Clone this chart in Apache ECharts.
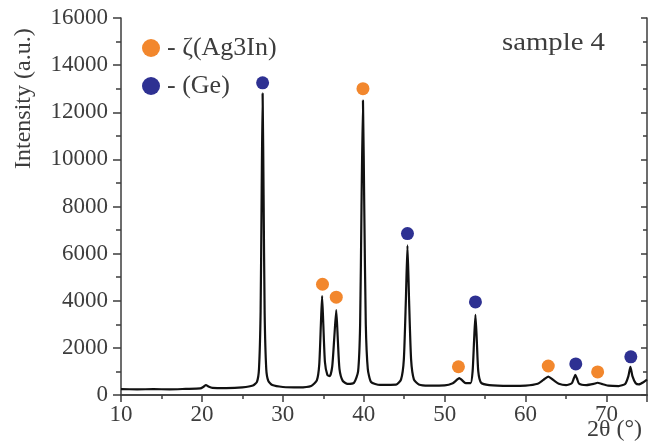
<!DOCTYPE html>
<html><head><meta charset="utf-8">
<script src="https://cdn.jsdelivr.net/npm/echarts@6/dist/echarts.min.js"></script>
<style>html,body{margin:0;padding:0;background:#fff}#c{width:652px;height:444px}</style>
</head><body><div id="c"></div>
<script>
// Diffraction profile: [2θ, intensity]
var profile = [[10,250],[12,240],[14,250],[16,240],[18,260],[19.8,280],[20.2,350],[20.5,420],[20.8,360],[21.3,300],[23,290],[25,320],[26.3,400],[26.8,560],[27.05,1100],[27.25,3500],[27.38,8500],[27.5,12800],[27.62,8500],[27.75,3500],[27.95,1100],[28.2,600],[28.7,420],[30,340],[32,320],[33.5,380],[34.2,620],[34.5,1300],[34.7,3000],[34.85,4200],[35.0,3000],[35.2,1400],[35.5,850],[35.8,800],[36.1,1200],[36.35,2400],[36.6,3600],[36.8,2300],[37.0,1100],[37.4,600],[38,470],[38.8,520],[39.3,1000],[39.55,3000],[39.72,8000],[39.9,12500],[40.06,8000],[40.25,3000],[40.5,1100],[40.9,550],[42,430],[44,440],[44.6,650],[44.95,1500],[45.2,4000],[45.4,6350],[45.6,4000],[45.85,1500],[46.2,650],[46.8,450],[48,400],[50,410],[51.0,500],[51.5,640],[51.8,720],[52.1,640],[52.6,500],[53.2,500],[53.45,1000],[53.63,2300],[53.8,3400],[53.97,2300],[54.15,1000],[54.5,520],[55.5,420],[58,390],[60,400],[61.5,480],[62.2,640],[62.8,780],[63.4,640],[64.1,480],[65,420],[65.7,500],[65.95,700],[66.15,850],[66.35,700],[66.6,480],[67.5,420],[68.4,470],[68.9,520],[69.4,470],[70.2,400],[71.5,380],[72.3,470],[72.7,800],[72.95,1200],[73.2,800],[73.6,500],[74,450],[74.6,550],[75,650]];
// Phase markers
var ag3inMarks = [[34.9,4700],[36.6,4150],[39.9,13000],[51.7,1200],[62.8,1230],[68.9,980]];
var geMarks = [[27.5,13250],[45.4,6850],[53.8,3950],[66.2,1320],[73.0,1620]];
var seriesNames = ['- ζ(Ag3In)', '- (Ge)'];
var xMin = 10, xMax = 75, xStep = 10;
var yMin = 0, yMax = 16000, yStep = 2000;

var axisColor = '#3d3d3d';
var font = 'Liberation Serif';
var chart = echarts.init(document.getElementById('c'), null, {renderer:'canvas'});
var lineStyle = {color: axisColor, width: 1.5};
chart.setOption({
  animation: false,
  backgroundColor: '#fff',
  grid: {left: 121, right: 5, top: 18, bottom: 49},
  legend: {
    left: 137, top: 30, orient: 'vertical', itemGap: 12, itemWidth: 18, itemHeight: 18,
    data: [{name: seriesNames[0], icon: 'circle'}, {name: seriesNames[1], icon: 'circle'}],
    textStyle: {fontFamily: font, fontSize: 26, color: axisColor, padding: [0,0,0,2]}
  },
  graphic: [
    {type: 'text', x: 12, y: 169, rotation: Math.PI/2, style: {text: 'Intensity (a.u.)', font: '24px "Liberation Serif"', fill: axisColor}},
    {type: 'text', x: 587, y: 418, style: {text: '2θ (°)', font: '24px "Liberation Serif"', fill: axisColor}},
    {type: 'text', x: 502, y: 31, scaleX: 1.15, style: {text: 'sample 4', font: '25px "Liberation Serif"', fill: axisColor}}
  ],
  xAxis: [
    {type: 'value', min: xMin, max: xMax, interval: xStep, position: 'bottom',
     axisLine: {lineStyle: lineStyle}, axisTick: {length: 7, lineStyle: lineStyle},
     minorTick: {show: true, splitNumber: 2, length: 4, lineStyle: lineStyle},
     splitLine: {show: false},
     axisLabel: {fontFamily: font, fontSize: 23, color: axisColor, margin: 8,
       formatter: function(v){ return v >= 75 ? '' : String(v); }}},
    {type: 'value', min: xMin, max: xMax, interval: xStep, position: 'top',
     axisLine: {lineStyle: lineStyle}, axisTick: {inside: true, length: 6, lineStyle: lineStyle},
     minorTick: {show: true, splitNumber: 2, length: 4, lineStyle: lineStyle},
     splitLine: {show: false}, axisLabel: {show: false}}
  ],
  yAxis: [
    {type: 'value', min: yMin, max: yMax, interval: yStep, position: 'left',
     axisLine: {show: true, lineStyle: lineStyle}, axisTick: {show: true, length: 8, lineStyle: lineStyle},
     minorTick: {show: true, splitNumber: 2, length: 5, lineStyle: lineStyle},
     splitLine: {show: false},
     axisLabel: {fontFamily: font, fontSize: 23, color: axisColor, margin: 13,
       formatter: function(v){ return String(v); }}},
    {type: 'value', min: yMin, max: yMax, interval: yStep, position: 'right',
     axisLine: {show: true, lineStyle: lineStyle}, axisTick: {show: true, inside: true, length: 6, lineStyle: lineStyle},
     minorTick: {show: true, splitNumber: 2, length: 4, lineStyle: lineStyle},
     splitLine: {show: false}, axisLabel: {show: false}}
  ],
  series: [
    {type: 'line', data: profile, showSymbol: false, symbol: 'none', smooth: 0.2,
     lineStyle: {color: '#111', width: 2.2}, z: 2},
    {name: seriesNames[0], type: 'scatter', data: ag3inMarks, symbolSize: 13,
     itemStyle: {color: '#f2872d', opacity: 1}, z: 3},
    {name: seriesNames[1], type: 'scatter', data: geMarks, symbolSize: 13,
     itemStyle: {color: '#2e3192', opacity: 1}, z: 3}
  ]
});
</script></body></html>
